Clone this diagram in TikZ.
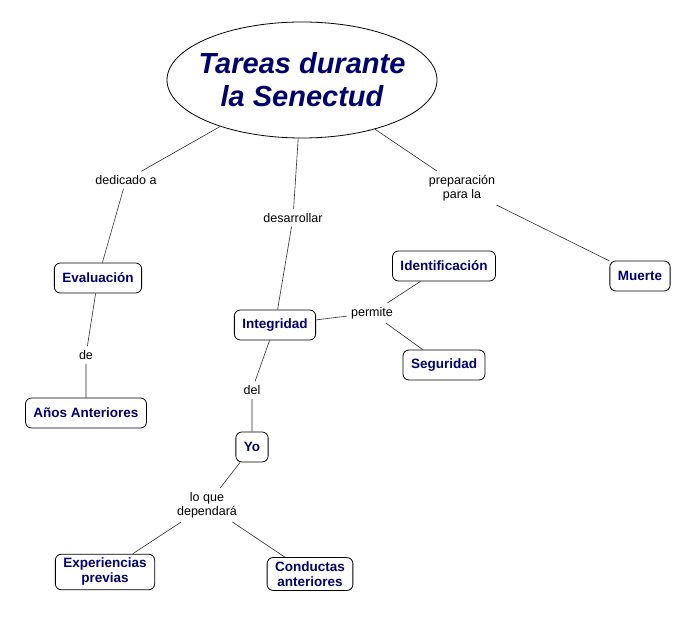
\documentclass[tikz,border=0pt]{standalone}
\usepackage{fontspec}
\setmainfont{Liberation Sans}
\usetikzlibrary{shapes.geometric}
\definecolor{conceptnavy}{RGB}{0,0,110}
\definecolor{linkgray}{RGB}{45,45,45}

\begin{document}
\begin{tikzpicture}[x=1pt,y=-1pt,
  concept/.style={draw=black, fill=white, rounded corners=6pt, line width=0.8pt,
    font=\bfseries\fontsize{13.5}{15}\selectfont, text=conceptnavy, align=center,
    inner xsep=8pt, inner ysep=4pt, minimum height=30pt},
  linkword/.style={font=\fontsize{12.5}{14}\selectfont, align=center, inner sep=4pt},
  link/.style={draw=linkgray, line width=0.6pt}]

\useasboundingbox[fill=white] (0,0) rectangle (693,617);

%% -- main topic ------------------------------------------------------------
\node[ellipse, draw=black, line width=0.8pt, minimum width=270pt, minimum height=116pt,
      inner xsep=-12pt, inner ysep=-12pt, align=center, text=conceptnavy,
      font=\bfseries\itshape\fontsize{29}{33}\selectfont] (tareas) at (302,80)
  {Tareas durante\\la Senectud};

%% -- concepts --------------------------------------------------------------
\node[concept] (evalua)  at (98,278)  {Evaluación};
\node[concept] (anios)   at (86,413)  {Años Anteriores};
\node[concept] (integ)   at (275,325) {Integridad};
\node[concept] (ident)   at (444,266) {Identificación};
\node[concept] (segur)   at (444,365) {Seguridad};
\node[concept] (muerte)  at (640,276) {Muerte};
\node[concept] (yo)      at (252,447) {Yo};
\node[concept] (exper)   at (105,572) {Experiencias\\previas};
\node[concept] (conduct) at (310,574) {Conductas\\anteriores};

%% -- linking words ---------------------------------------------------------
\node[linkword] (dedic)  at (126,180) {dedicado a};
\node[linkword] (desarr) at (293,218) {desarrollar};
\node[linkword] (prepar) at (462,188) {preparación\\para la};
\node[linkword] (de)     at (86,355)  {de};
\node[linkword] (permit) at (372,313) {permite};
\node[linkword] (del)    at (252,390) {del};
\node[linkword] (loque)  at (207,505) {lo que\\dependará};

%% -- connectors ------------------------------------------------------------
\draw[link] (tareas) -- (dedic) -- (evalua);
\draw[link] (tareas) -- (desarr) -- (integ);
\draw[link] (tareas) -- (prepar) -- (muerte);
\draw[link] (evalua) -- (de) -- (anios);
\draw[link] (integ) -- (permit);
\draw[link] (permit) -- (ident);
\draw[link] (permit) -- (segur);
\draw[link] (integ) -- (del) -- (yo);
\draw[link] (yo) -- (loque);
\draw[link] (loque) -- (exper);
\draw[link] (loque) -- (conduct);

\end{tikzpicture}
\end{document}
